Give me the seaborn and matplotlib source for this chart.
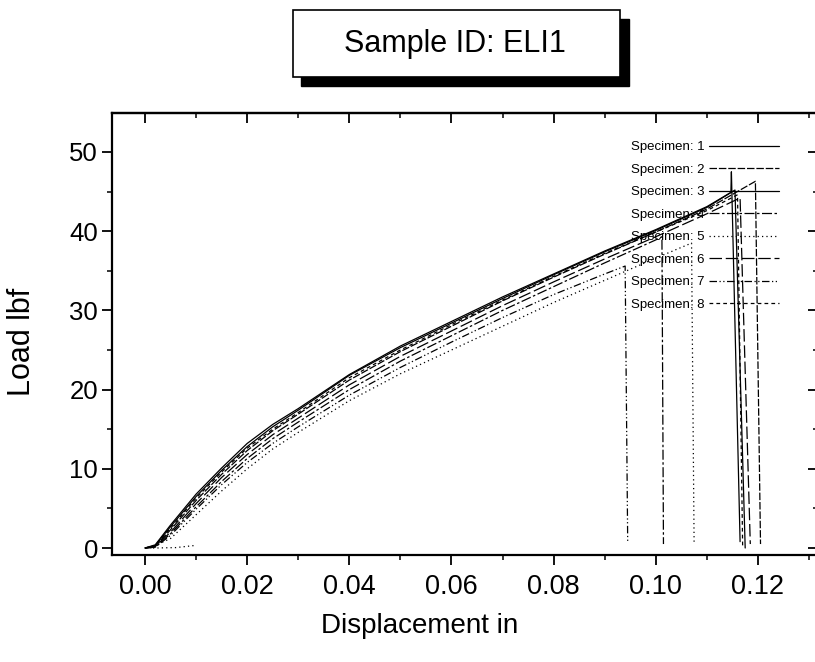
import pandas as pd
import matplotlib
matplotlib.use('Agg')
import matplotlib.pyplot as plt
from matplotlib.patches import Rectangle
from matplotlib.ticker import MultipleLocator
import seaborn as sns

# Datos (desplazamiento en pulgadas, carga en lbf)
x_s1 = [0, 0.002, 0.005, 0.01, 0.015, 0.02, 0.025, 0.03, 0.04, 0.05, 0.06, 0.07, 0.08, 0.09, 0.10, 0.11, 0.1155, 0.1175]
y_s1 = [0, 0.3, 2.7, 6.5, 9.8, 12.8, 15.3, 17.4, 21.8, 25.3, 28.4, 31.5, 34.5, 37.4, 40.1, 43.0, 45.2, 0.0]

x_s2 = [0, 0.002, 0.005, 0.01, 0.015, 0.02, 0.025, 0.03, 0.04, 0.05, 0.06, 0.07, 0.08, 0.09, 0.10, 0.11, 0.1195, 0.1205]
y_s2 = [0, 0.2, 2.3, 6.0, 9.3, 12.3, 14.8, 16.9, 21.2, 24.8, 28.0, 31.2, 34.2, 37.1, 39.9, 42.8, 46.3, 0.5]

x_s3 = [0, 0.002, 0.005, 0.01, 0.015, 0.02, 0.025, 0.03, 0.04, 0.05, 0.06, 0.07, 0.08, 0.09, 0.10, 0.11, 0.1147, 0.1148, 0.1165]
y_s3 = [0, 0.4, 2.9, 6.8, 10.1, 13.2, 15.6, 17.6, 21.9, 25.5, 28.6, 31.7, 34.6, 37.5, 40.2, 43.1, 44.9, 47.5, 0.8]

x_s4 = [0, 0.002, 0.005, 0.01, 0.015, 0.02, 0.025, 0.03, 0.04, 0.05, 0.06, 0.07, 0.08, 0.09, 0.10, 0.1012, 0.1015]
y_s4 = [0, 0.1, 1.8, 5.2, 8.4, 11.3, 13.8, 15.9, 20.0, 23.6, 26.8, 30.0, 33.0, 36.0, 38.9, 39.3, 0.5]

x_s5 = [0.0095, 0.006, 0.002, 0.001, 0.005, 0.01, 0.015, 0.02, 0.025, 0.03, 0.04, 0.05, 0.06, 0.07, 0.08, 0.09, 0.10, 0.107, 0.1075]
y_s5 = [0.3, 0.05, 0, 0, 1.2, 4.2, 7.2, 10.0, 12.5, 14.6, 18.6, 22.0, 25.0, 28.0, 31.0, 33.8, 36.6, 38.5, 0.5]

x_s6 = [0, 0.002, 0.005, 0.01, 0.015, 0.02, 0.025, 0.03, 0.04, 0.05, 0.06, 0.07, 0.08, 0.09, 0.10, 0.11, 0.1165, 0.1185]
y_s6 = [0, 0.2, 2.0, 5.6, 8.9, 11.8, 14.3, 16.4, 20.6, 24.2, 27.4, 30.6, 33.6, 36.5, 39.3, 42.2, 44.2, 0.5]

x_s7 = [0, 0.002, 0.005, 0.01, 0.015, 0.02, 0.025, 0.03, 0.04, 0.05, 0.06, 0.07, 0.08, 0.09, 0.094, 0.0945]
y_s7 = [0, 0.1, 1.6, 4.9, 8.0, 10.8, 13.2, 15.3, 19.3, 22.8, 26.0, 29.1, 32.0, 34.6, 35.6, 0.6]

x_s8 = [0, 0.002, 0.005, 0.01, 0.015, 0.02, 0.025, 0.03, 0.04, 0.05, 0.06, 0.07, 0.08, 0.09, 0.10, 0.11, 0.116, 0.117]
y_s8 = [0, 0.3, 2.5, 6.3, 9.6, 12.6, 15.0, 17.1, 21.5, 25.0, 28.2, 31.3, 34.3, 37.2, 39.9, 42.6, 44.6, 0.3]

especimenes = ['Specimen: 1', 'Specimen: 2', 'Specimen: 3', 'Specimen: 4',
               'Specimen: 5', 'Specimen: 6', 'Specimen: 7', 'Specimen: 8']
xs = [x_s1, x_s2, x_s3, x_s4, x_s5, x_s6, x_s7, x_s8]
ys = [y_s1, y_s2, y_s3, y_s4, y_s5, y_s6, y_s7, y_s8]

filas = []
for nombre, xv, yv in zip(especimenes, xs, ys):
    for i, (a, b) in enumerate(zip(xv, yv)):
        filas.append({'Specimen': nombre, 'orden': i, 'Displacement': a, 'Load': b})
datos = pd.DataFrame(filas)

sns.set_style('ticks')
plt.rcParams['font.family'] = ['Liberation Sans', 'DejaVu Sans']
plt.rcParams['text.color'] = 'black'
plt.rcParams['axes.labelcolor'] = 'black'
plt.rcParams['xtick.color'] = 'black'
plt.rcParams['ytick.color'] = 'black'

fig = plt.figure(figsize=(8.15, 6.62), dpi=100)
ax = fig.add_axes([112/815, 1-555/662, (818-112)/815, (555-113)/662])

trazos = ['', (6, 1.5), '', (8, 2, 2, 2), (1, 2.5), (10, 3), (6, 2, 1, 2, 1, 2), (3, 2.5)]
sns.lineplot(data=datos, x='Displacement', y='Load', hue='Specimen', style='Specimen',
             palette=['black'] * 8, dashes=trazos, sort=False, estimator=None,
             linewidth=0.9, ax=ax, legend=False)

ax.set_xlim(-33/5108, 673/5108)
ax.set_ylim(-7/7.92, 435/7.92)

ax.set_xticks([0, 0.02, 0.04, 0.06, 0.08, 0.10, 0.12])
ax.set_xticklabels(['0.00', '0.02', '0.04', '0.06', '0.08', '0.10', '0.12'])
ax.set_yticks([0, 10, 20, 30, 40, 50])
ax.xaxis.set_minor_locator(MultipleLocator(0.01))
ax.yaxis.set_minor_locator(MultipleLocator(5))
ax.tick_params(which='major', direction='out', length=7, width=1.3, pad=3)
ax.tick_params(which='minor', direction='out', length=3.5, width=1.1)
ax.tick_params(axis='x', labelsize=19.5, pad=7)
ax.tick_params(axis='y', labelsize=18.5)

sup = ax.secondary_xaxis('top')
sup.set_xticks([0, 0.02, 0.04, 0.06, 0.08, 0.10, 0.12])
sup.xaxis.set_minor_locator(MultipleLocator(0.01))
sup.tick_params(which='major', direction='in', length=7, width=1.3, labeltop=False)
sup.tick_params(which='minor', direction='in', length=3.5, width=1.1)
der = ax.secondary_yaxis('right')
der.set_yticks([0, 10, 20, 30, 40, 50])
der.yaxis.set_minor_locator(MultipleLocator(5))
der.tick_params(which='major', direction='in', length=7, width=1.3, labelright=False)
der.tick_params(which='minor', direction='in', length=3.5, width=1.1)

for s in list(ax.spines.values()) + [sup.spines['top'], der.spines['right']]:
    s.set_linewidth(1.6)
    s.set_color('black')
    s.set_visible(True)

ax.set_xlabel('Displacement in', fontsize=20)
ax.set_ylabel('Load lbf', fontsize=22)
ax.xaxis.set_label_coords((420-112)/706, -(613-555)/442)
ax.yaxis.set_label_coords((37-112)/706, (555-342)/442)

# Leyenda: texto a la izquierda, linea a la derecha
lineas = ax.get_lines()[:8]
leyenda = ax.legend(lineas, especimenes, loc='upper left', frameon=False, markerfirst=False,
                    bbox_to_anchor=(631/815, 1-141/662), bbox_transform=fig.transFigure,
                    fontsize=9.5, handlelength=5.3, handletextpad=0.3, labelspacing=0.78,
                    borderpad=0, borderaxespad=0)

# Recuadro del titulo con sombra
fig.patches.append(Rectangle((301/815, 1-86/662), 328/815, 67/662, transform=fig.transFigure,
                             facecolor='black', edgecolor='black', zorder=1))
fig.patches.append(Rectangle((293/815, 1-77/662), 327/815, 67/662, transform=fig.transFigure,
                             facecolor='white', edgecolor='black', linewidth=1.2, zorder=2))
fig.text(455/815, 1-44/662, 'Sample ID: ELI1', fontsize=22, ha='center', va='center', zorder=3)

plt.savefig('out.png', dpi=100)
